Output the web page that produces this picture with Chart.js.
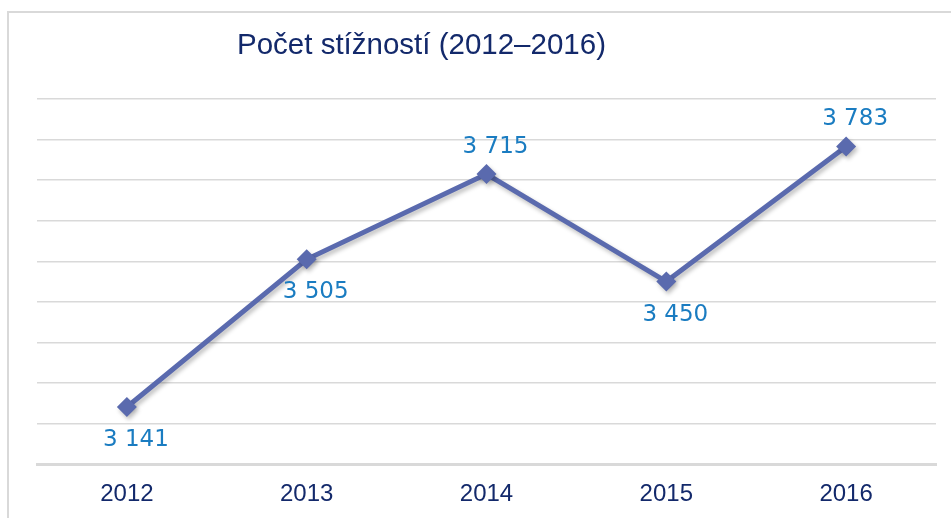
<!DOCTYPE html>
<html>
<head>
<meta charset="utf-8">
<script src="https://cdn.jsdelivr.net/npm/chart.js@4.4.1/dist/chart.umd.min.js"></script>
<style>
  html, body { margin: 0; padding: 0; background: #ffffff; }
  #wrap { width: 951px; height: 518px; position: relative; }
</style>
</head>
<body>
<div id="wrap"><canvas id="complaintsChart"></canvas></div>
<script>
const years = ["2012", "2013", "2014", "2015", "2016"];
const complaints = [3141, 3505, 3715, 3450, 3783];
const labelSide = ["below", "below", "above", "below", "above"];
const chartTitle = "Počet stížností (2012–2016)";

/* frame, title and value labels */

const framePlugin = {
  id: "frame",
  beforeDraw(chart) {
    const ctx = chart.ctx;
    ctx.save();
    ctx.strokeStyle = "#d9d9d9";
    ctx.lineWidth = 2;
    ctx.beginPath();
    ctx.moveTo(8, 518);
    ctx.lineTo(8, 12);
    ctx.lineTo(951, 12);
    ctx.stroke();

    ctx.fillStyle = "#13296b";
    ctx.font = "29.5px 'Liberation Sans', Arial, sans-serif";
    ctx.textBaseline = "middle";
    ctx.textAlign = "left";
    ctx.fillText(chartTitle, 237, 46);
    ctx.restore();
  },
};

const valueLabels = {
  id: "valueLabels",
  afterDatasetsDraw(chart) {
    const ctx = chart.ctx;
    const meta = chart.getDatasetMeta(0);
    ctx.save();
    ctx.fillStyle = "#1a7cc1";
    ctx.font = "23px 'DejaVu Sans', Verdana, sans-serif";
    ctx.textAlign = "center";
    ctx.textBaseline = "middle";
    meta.data.forEach((point, i) => {
      const text = complaints[i].toLocaleString("cs-CZ").replace(/\s/g, " ");
      const dy = labelSide[i] === "above" ? -27 : 33;
      ctx.fillText(text, point.x + 9, point.y + dy);
    });
    ctx.restore();
  },
};

const shadowPlugin = {
  id: "lineShadow",
  beforeDatasetDraw(chart) {
    const ctx = chart.ctx;
    ctx.save();
    ctx.shadowColor = "rgba(0, 0, 0, 0.25)";
    ctx.shadowBlur = 4;
    ctx.shadowOffsetX = 2;
    ctx.shadowOffsetY = 3;
  },
  afterDatasetDraw(chart) {
    chart.ctx.restore();
  },
};

const canvas = document.getElementById("complaintsChart");

new Chart(canvas, {
  type: "line",
  data: {
    labels: years,
    datasets: [
      {
        data: complaints,
        borderColor: "#5a6aae",
        backgroundColor: "#5a6aae",
        borderWidth: 5,
        pointStyle: "rectRot",
        pointRadius: 10,
        pointBorderWidth: 0,
        tension: 0,
      },
    ],
  },
  options: {
    responsive: true,
    maintainAspectRatio: false,
    animation: false,
    layout: {
      padding: { left: 37, right: 15, top: 99, bottom: -7 },
    },
    plugins: {
      legend: { display: false },
      tooltip: { enabled: false },
    },
    scales: {
      x: {
        offset: true,
        grid: { display: false, drawTicks: false },
        border: { color: "#d9d9d9", width: 3 },
        ticks: {
          color: "#13296b",
          padding: 16,
          font: { family: "'Liberation Sans', Arial", size: 24 },
        },
      },
      y: {
        min: 3000,
        max: 3900,
        afterFit(scale) {
          scale.width = 0;
        },
        ticks: { display: false, stepSize: 100 },
        border: { display: false },
        grid: { color: "#d9d9d9", lineWidth: 1.5, drawTicks: false },
      },
    },
  },
  plugins: [framePlugin, valueLabels, shadowPlugin],
});
</script>
</body>
</html>
